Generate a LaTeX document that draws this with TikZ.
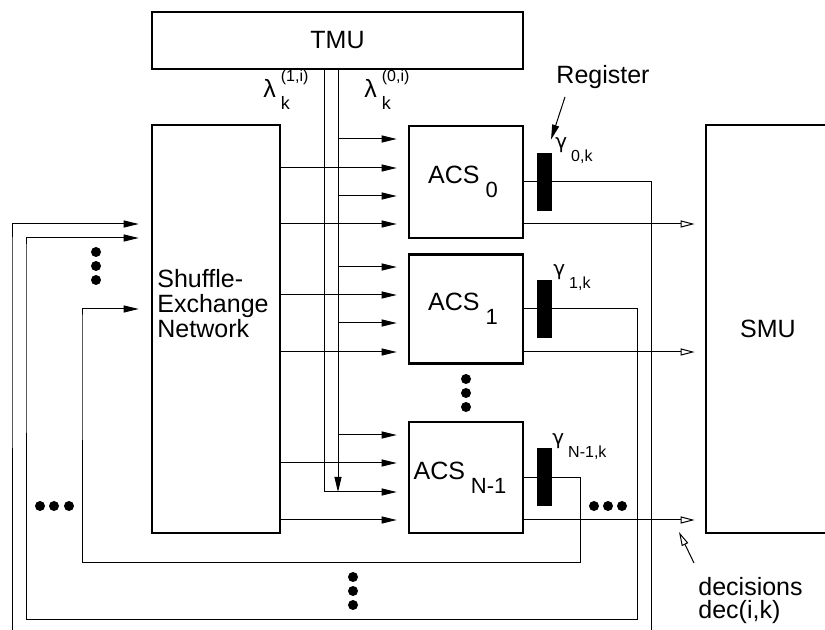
\documentclass[tikz,border=0pt]{standalone}
\usepackage{fontspec}
\setmainfont{Liberation Sans}
\newfontfamily\greekfont{DejaVu Sans}
\usetikzlibrary{arrows.meta}

\newcommand{\acssub}[1]{\hspace{3pt}\raisebox{-7pt}{\fontsize{11}{11}\selectfont #1}}
\newcommand{\gamsub}[1]{{\greekfont γ}\hspace{2pt}\raisebox{-6.5pt}{\fontsize{8}{8}\selectfont #1}}
\newcommand{\lamscripts}[1]{\hspace{2.5pt}\rlap{\raisebox{8pt}{\fontsize{8}{8}\selectfont(#1)}}\raisebox{-6pt}{\fontsize{9}{9}\selectfont k}}

\begin{document}
\begin{tikzpicture}[x=0.5pt,y=-0.5pt,
  unit/.style={draw,line width=1.3pt,inner sep=0pt,font=\fontsize{12.5}{15}\selectfont},
  reg/.style={fill=black,minimum width=7.5pt,minimum height=29pt,inner sep=0pt},
  sig/.style={line width=0.5pt,-{Triangle[length=7.5pt,width=3.5pt]},shorten >=5.5pt},
  dec/.style={line width=0.5pt,-{Triangle[open,length=7pt,width=3.5pt]}},
  txt/.style={inner sep=0pt,font=\fontsize{12.5}{12.5}\selectfont},
  gam/.style={anchor=base west,inner sep=0pt,font=\fontsize{10}{10}\selectfont},
  dot/.style={circle,fill=black,inner sep=0pt,minimum size=5pt}]

  \useasboundingbox (0,0) rectangle (825,630);

  % units
  \node[unit,minimum width=185.5pt,minimum height=28.5pt] (tmu) at (337.5,40.5) {TMU};
  \node[unit,minimum width=64pt,minimum height=204pt] (shuffle) at (216,329) {};
  \node[txt,align=left,anchor=west] (shufflelabel) at (157,304) {Shuffle-\\Exchange\\Network};
  \node[unit,minimum width=57pt,minimum height=56pt] (acs0) at (466,182) {\hspace{-3pt}ACS\acssub{0}};
  \node[unit,minimum width=57pt,minimum height=54.5pt] (acs1) at (466,309) {\hspace{-3pt}ACS\acssub{1}};
  \node[unit,minimum width=57pt,minimum height=55.5pt] (acsN) at (466,477.5) {\hspace{-6pt}ACS\acssub{N-1}};
  \node[unit,minimum width=62pt,minimum height=204pt] (smu) at (768,329) {SMU};

  % registers
  \node[reg] (reg0) at (544.5,182) {};
  \node[reg] (reg1) at (544.5,309) {};
  \node[reg] (regN) at (544.5,477.5) {};
  \node[gam] (gam0) at (555,149) {\gamsub{0,k}};
  \node[gam] (gam1) at (553,276) {\gamsub{1,k}};
  \node[gam] (gamN) at (552,445) {\gamsub{N-1,k}};
  \node[txt] (reglabel) at (603,77) {Register};
  \coordinate (regtail) at (565,97);
  \draw[line width=0.5pt,-{Triangle[length=7.5pt,width=3.5pt]}] (regtail) -- ([xshift=-2pt,yshift=-1pt]gam0.north west);

  % branch metrics from the TMU
  \node[anchor=base west,txt] (lam1) at (263,98) {λ\lamscripts{1,i}};
  \node[anchor=base west,txt] (lam0) at (364,98) {λ\lamscripts{0,i}};

  % rows of the ACS inputs
  \foreach \r/\y in {1/139,2/168,3/196,4/224,5/267,6/295,7/323,8/352,9/435,10/463,11/492,12/520}
    \coordinate (row\r) at (0,\y);
  \coordinate (bus1) at ([xshift=-6.75pt]tmu.south);
  \coordinate (bus0) at ([xshift=0.25pt]tmu.south);

  \draw[sig] (bus1) |- (acsN.west |- row11);
  \draw[line width=0.5pt,-{Triangle[length=7.5pt,width=3.5pt]}] (bus0) -- (bus0 |- row11);
  \foreach \r/\a in {1/acs0,3/acs0,5/acs1,7/acs1,9/acsN}
    \draw[sig] (bus0 |- row\r) -- (\a.west |- row\r);
  \foreach \r/\a in {2/acs0,4/acs0,6/acs1,8/acs1,10/acsN,12/acsN}
    \draw[sig] (shuffle.east |- row\r) -- (\a.west |- row\r);

  % decisions to the SMU
  \foreach \r/\a in {4/acs0,8/acs1,12/acsN}
    \draw[dec,shorten >=5pt] (\a.east |- row\r) -- (smu.west |- row\r);

  % path metrics back to the network
  \coordinate (fb0) at (0,224);
  \coordinate (fb1) at (0,238);
  \coordinate (fbN) at (0,309);
  \draw[sig,shorten >=6pt] (acs0.east) -| (651,650) -| (12,250) |- (shuffle.west |- fb0);
  \draw[sig,shorten >=6pt] (acs1.east) -| (637,619) -| (26,250) |- (shuffle.west |- fb1);
  \draw[sig,shorten >=6pt] (acsN.east) -| (580,563) -| (82,320) |- (shuffle.west |- fbN);
  \node[reg] at (reg0) {};
  \node[reg] at (reg1) {};
  \node[reg] at (regN) {};

  % decision label
  \node[txt,align=left,anchor=north west,font=\fontsize{12.5}{11.5}\selectfont] (declabel) at (698,577) {decisions\\dec(i,k)};
  \coordinate (dectail) at (694,563);
  \coordinate (dectip) at (679,532);
  \draw[dec] (dectail) -- (dectip);

  % dots
  \foreach \y in {252,266,280} \node[dot] (dotl\y) at (96,\y) {};
  \foreach \x in {40,54,69} \node[dot] (dotb\x) at (\x,506) {};
  \foreach \y in {577,591,605} \node[dot] (dotf\y) at (353,\y) {};
  \foreach \y in {379,393,407} \node[dot] (dota\y) at (466,\y) {};
  \foreach \x in {594,608,622} \node[dot] (dotr\x) at (\x,506) {};
\end{tikzpicture}
\end{document}
